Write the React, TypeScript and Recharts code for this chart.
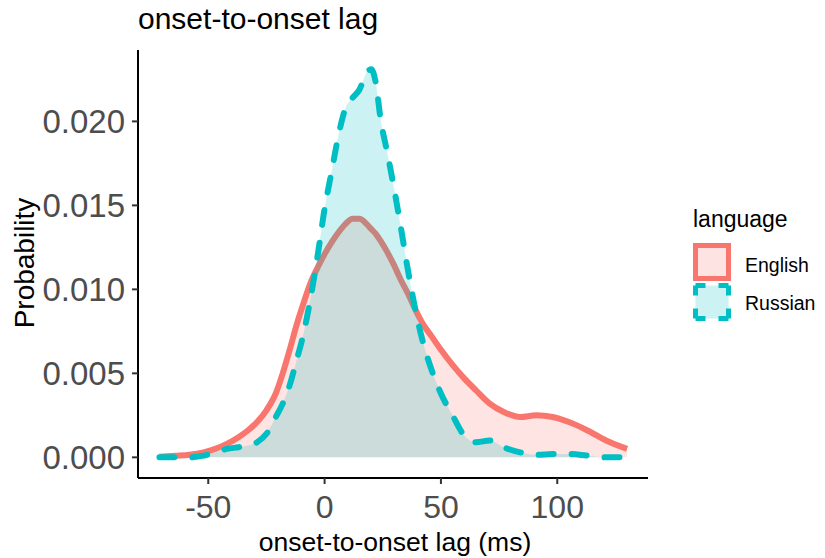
import React from 'react';
import { ComposedChart, Area, XAxis, YAxis } from 'recharts';

// density estimates (x in ms)
const lagMs = [
  -71, -64, -58, -52, -47, -42, -37, -33, -29, -25, -21, -18, -15, -12, -9, -6, -3, 0, 3, 6, 9, 12,
  15, 18, 20, 22, 24, 27, 30, 33, 36, 39, 42, 46, 50, 55, 60, 65, 71, 77, 84, 91, 98, 105, 113, 121, 130,
];
const english = [
  0.00004, 0.0001, 0.00016, 0.0003, 0.0005, 0.0008, 0.0012, 0.0016, 0.0021, 0.0028, 0.0038, 0.005,
  0.0064, 0.0079, 0.0092, 0.0104, 0.0113, 0.0121, 0.0128, 0.0134, 0.0139, 0.0142, 0.0142, 0.0139, 0.0136,
  0.0133, 0.0129, 0.0122, 0.0114, 0.0105, 0.0097, 0.0088, 0.008, 0.0072, 0.0064, 0.0055, 0.0047, 0.004,
  0.0032, 0.0027, 0.0024, 0.0025, 0.0024, 0.0021, 0.0016, 0.001, 0.0005,
];
const russian = [
  0, 0, 0, 0.0001, 0.0003, 0.0005, 0.0006, 0.0007, 0.0009, 0.0014, 0.0024, 0.0032, 0.0043, 0.0058,
  0.0074, 0.0095, 0.012, 0.0148, 0.017, 0.0192, 0.0208, 0.0214, 0.0219, 0.0229, 0.0231, 0.0223, 0.0202,
  0.0181, 0.0159, 0.0135, 0.011, 0.0088, 0.007, 0.0052, 0.0038, 0.0025, 0.0013, 0.0009, 0.001, 0.0006,
  0.0003, 0.00015, 0.0002, 0.0002, 0.0001, 0, 0,
];
const xTicks = [-50, 0, 50, 100];
const yTicks = [0, 0.005, 0.01, 0.015, 0.02];

const data = lagMs.map((x, i) => ({ x, English: english[i], Russian: russian[i] }));

const RED = '#F8766D';
const CYAN = '#00BFC4';
const FONT = '"Liberation Sans", Arial, sans-serif';

export default function App() {
  return (
    <div style={{ position: 'absolute', left: 0, top: 0, width: 825, height: 558, background: '#fff' }}>
      <ComposedChart
        width={825}
        height={558}
        data={data}
        margin={{ top: 50, right: 177, left: 0, bottom: 0 }}
      >
        <XAxis
          dataKey="x"
          type="number"
          domain={[-80.2, 139]}
          ticks={xTicks}
          height={80}
          tickSize={6}
          tickMargin={11}
          axisLine={{ stroke: '#000', strokeWidth: 2 }}
          tickLine={{ stroke: '#333', strokeWidth: 2 }}
          tick={{ fill: '#4D4D4D', fontSize: 32, fontFamily: FONT }}
          allowDataOverflow
        />
        <YAxis
          type="number"
          domain={[-0.00123, 0.02425]}
          ticks={yTicks}
          width={138}
          tickSize={6}
          tickMargin={7}
          tickFormatter={(v: number) => v.toFixed(3)}
          axisLine={{ stroke: '#000', strokeWidth: 2 }}
          tickLine={{ stroke: '#333', strokeWidth: 2 }}
          tick={{ fill: '#4D4D4D', fontSize: 33, fontFamily: FONT }}
          allowDataOverflow
        />
        <Area
          dataKey="English"
          type="monotone"
          baseValue={0}
          stroke={RED}
          strokeWidth={6}
          strokeLinejoin="round"
          fill={RED}
          fillOpacity={0.2}
          isAnimationActive={false}
        />
        <Area
          dataKey="Russian"
          type="monotone"
          baseValue={0}
          stroke={CYAN}
          strokeWidth={6}
          strokeDasharray="15 18"
          strokeLinecap="round"
          fill={CYAN}
          fillOpacity={0.2}
          isAnimationActive={false}
        />
      </ComposedChart>
      <svg
        width={825}
        height={558}
        style={{ position: 'absolute', left: 0, top: 0, pointerEvents: 'none' }}
        fontFamily={FONT}
      >
        <text x={138} y={29} fontSize={30} fill="#000">onset-to-onset lag</text>
        <text x={395} y={551} fontSize={26.5} fill="#000" textAnchor="middle">onset-to-onset lag (ms)</text>
        <text
          x={0}
          y={0}
          fontSize={28}
          fill="#000"
          textAnchor="middle"
          transform="translate(34 263) rotate(-90)"
        >
          Probability
        </text>
        <text x={693} y={227} fontSize={23} fill="#000">language</text>
        <rect x={695.5} y={245.5} width={33} height={33} fill="#FDE3E1" stroke={RED} strokeWidth={5} />
        <rect
          x={695.5}
          y={285.5}
          width={33}
          height={33}
          fill="#CCF2F3"
          stroke={CYAN}
          strokeWidth={5}
          strokeDasharray="10 13 10 0"
        />
        <text x={745} y={272} fontSize={19.5} fill="#000">English</text>
        <text x={745} y={310} fontSize={19.5} fill="#000">Russian</text>
      </svg>
    </div>
  );
}
